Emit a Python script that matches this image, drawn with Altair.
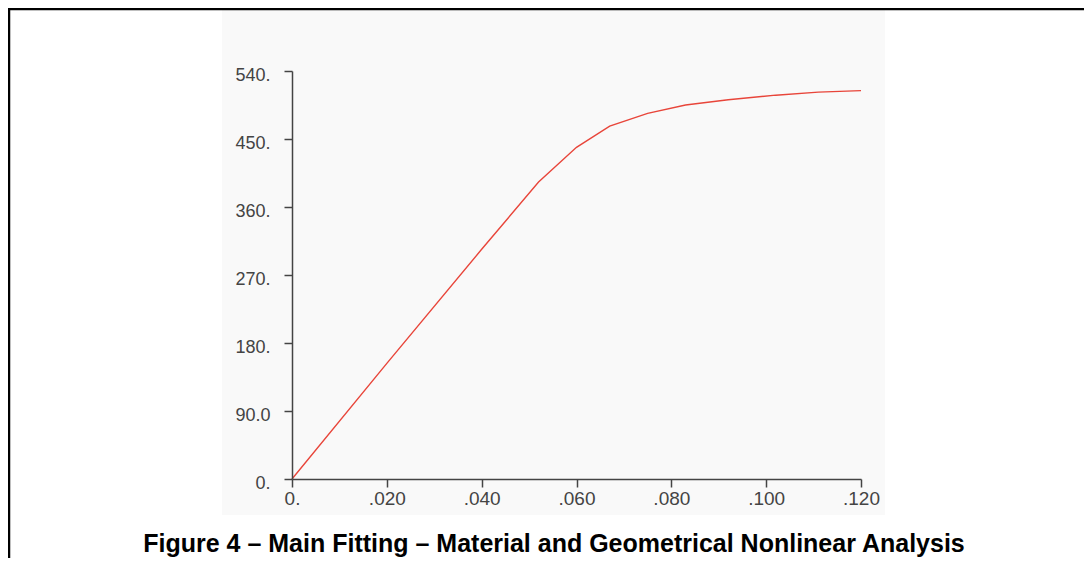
import altair as alt
import pandas as pd

# Data
strain = [0.0, 0.020, 0.040, 0.052, 0.060, 0.067, 0.075, 0.083, 0.092, 0.102, 0.111, 0.120]
load = [0.0, 153.0, 304.0, 393.0, 439.0, 467.0, 484.0, 495.0, 502.0, 508.0, 512.0, 514.0]

x_ticks = [0.0, 0.02, 0.04, 0.06, 0.08, 0.10, 0.12]
y_ticks = [0, 90, 180, 270, 360, 450, 540]
title_text = "Figure 4 \u2013 Main Fitting \u2013 Material and Geometrical Nonlinear Analysis"

df = pd.DataFrame({"strain": strain, "load": load})
title_df = pd.DataFrame({"t": [title_text]})
one = pd.DataFrame({"a": [0]})

W, H = 569, 408
PL, PT, PR, PB = 284, 63, 223, 79

x_label_expr = "datum.value == 0 ? '0.' : replace(format(datum.value, '.3f'), /^0/, '')"
y_label_expr = "datum.value == 0 ? '0.' : (datum.value < 100 ? format(datum.value, '.1f') : format(datum.value, 'd') + '.')"

panel = alt.Chart(one).mark_rect(color="#f9f9f9", clip=False).encode(
    x=alt.value(222 - 292), x2=alt.value(885 - 292),
    y=alt.value(-PT), y2=alt.value(515 - 71),
)

border_top = alt.Chart(one).mark_rule(color="#000000", strokeWidth=2.5, clip=False).encode(
    x=alt.value(-PL), x2=alt.value(W + PR), y=alt.value(-PT + 1)
)
border_left = alt.Chart(one).mark_rule(color="#000000", strokeWidth=2.5, clip=False).encode(
    x=alt.value(-PL + 1), y=alt.value(-PT), y2=alt.value(H + PB)
)

line = alt.Chart(df).mark_line(color="#e8453a", strokeWidth=1.4).encode(
    x=alt.X(
        "strain:Q",
        scale=alt.Scale(domain=[0, 0.12], nice=False, zero=True),
        axis=alt.Axis(
            values=x_ticks, labelExpr=x_label_expr, title=None, grid=False, zindex=1,
            domainColor="#444444", domainWidth=1.5, tickColor="#444444", tickWidth=1.5,
            tickSize=8, labelFont="Liberation Sans", labelFontSize=19,
            labelColor="#444444", labelPadding=2, labelFlush=False,
        ),
    ),
    y=alt.Y(
        "load:Q",
        scale=alt.Scale(domain=[0, 540], nice=False),
        axis=alt.Axis(
            values=y_ticks, labelExpr=y_label_expr, title=None, grid=False, zindex=1,
            domainColor="#444444", domainWidth=1.5, tickColor="#444444", tickWidth=1.5,
            tickSize=8, labelFont="Liberation Sans", labelFontSize=18,
            labelColor="#444444", labelPadding=14, labelOffset=4, labelFlush=False,
        ),
    ),
)

title = alt.Chart(title_df).mark_text(
    font="Liberation Sans", fontSize=25, fontWeight="bold", color="#000000",
    align="center", baseline="alphabetic", clip=False,
).encode(
    text="t:N", x=alt.value(554 - 292), y=alt.value(552 - 71)
)

chart = alt.layer(panel, border_top, border_left, line, title).properties(
    width=W, height=H,
    padding={"left": PL, "top": PT, "right": PR, "bottom": PB},
    autosize=alt.AutoSizeParams(type="none"),
    background="#ffffff",
).configure_view(stroke=None, fill=None)

chart.save("out.html", embed_options={"renderer": "svg", "actions": False})
